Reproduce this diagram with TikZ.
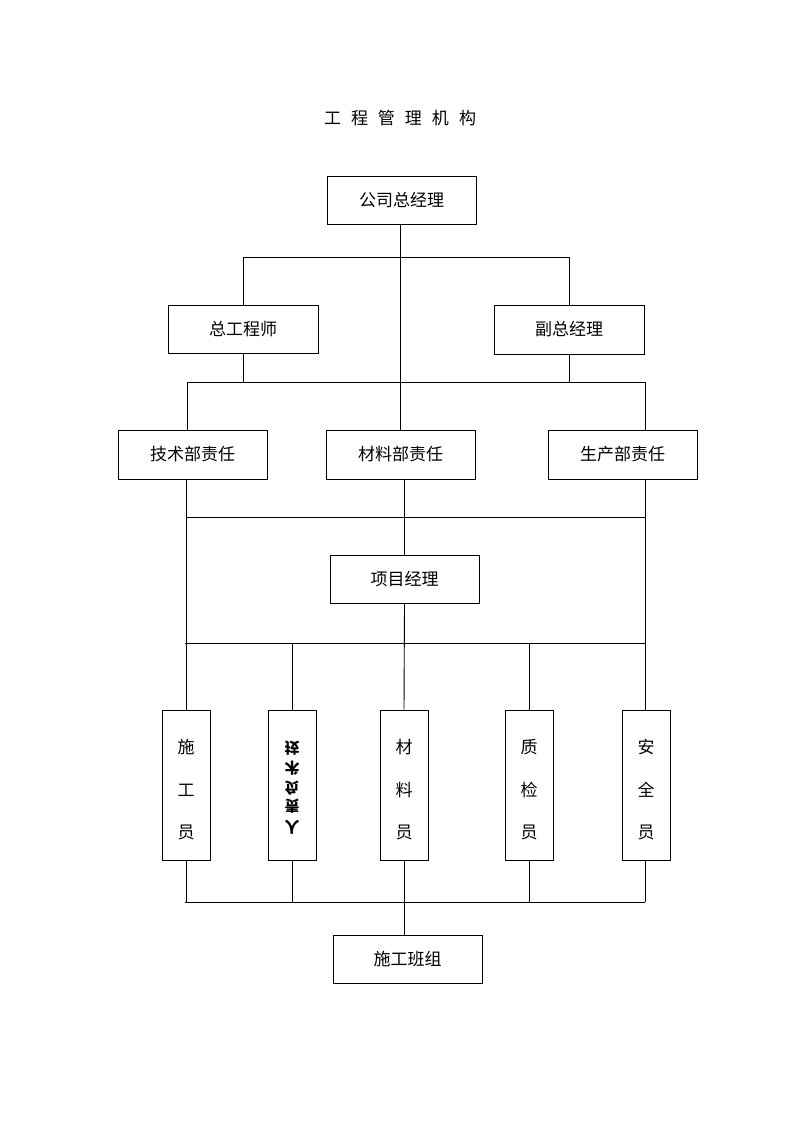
\documentclass[tikz,border=0pt]{standalone}
\usepackage{graphicx}
\usepackage{fontspec}
\newfontfamily\cjk{Noto Sans CJK SC}
\tikzset{
  box/.style={draw, line width=0.9pt, inner sep=0pt, font=\cjk\fontsize{17}{17}\selectfont},
  vbox/.style={draw, line width=0.9pt, inner sep=0pt, minimum width=48pt, minimum height=150pt},
  ln/.style={line width=0.9pt},
  ch/.style={font=\cjk\fontsize{17}{17}\selectfont, inner sep=0pt}
}
\begin{document}
\begin{tikzpicture}[x=1pt,y=-1pt]
\useasboundingbox (0,0) rectangle (800,1132);
% title
\node[font=\cjk\fontsize{17}{17}\selectfont, inner sep=0pt] (title) at (400,118) {工\hspace{10pt}程\hspace{10pt}管\hspace{10pt}理\hspace{10pt}机\hspace{10pt}构};
% boxes
\node[box, minimum width=149pt, minimum height=48pt] (gm) at (401.5,200) {公司总经理};
\node[box, minimum width=150pt, minimum height=48pt] (ce) at (243,329) {总工程师};
\node[box, minimum width=150pt, minimum height=49pt] (vgm) at (569,329.5) {副总经理};
\node[box, minimum width=149pt, minimum height=49pt] (tech) at (192.5,454.5) {技术部责任};
\node[box, minimum width=149pt, minimum height=49pt] (mat) at (400.5,454.5) {材料部责任};
\node[box, minimum width=149pt, minimum height=49pt] (prod) at (622.5,454.5) {生产部责任};
\node[box, minimum width=149pt, minimum height=48pt] (pm) at (404.5,579) {项目经理};
\node[box, minimum width=149pt, minimum height=48pt] (team) at (407.5,959) {施工班组};
% vertical boxes
\node[vbox] (b1) at (186,785) {};
\node[vbox] (b2) at (292,785) {};
\node[vbox] (b3) at (404,785) {};
\node[vbox] (b4) at (529,785) {};
\node[vbox] (b5) at (646,785) {};
% text in vertical boxes
\foreach \bx/\a/\b/\c in {b1/施/工/员, b3/材/料/员, b4/质/检/员, b5/安/全/员}{
  \node[ch] at ([yshift=38pt]\bx.center) {\a};
  \node[ch] at ([yshift=-5pt]\bx.center) {\b};
  \node[ch] at ([yshift=-47pt]\bx.center) {\c};
}
\foreach \t/\dy in {技/37, 术/17, 负/-3, 责/-21, 人/-42}{
  \node[ch, font=\cjk\bfseries\fontsize{15}{15}\selectfont] at ([yshift=\dy pt]b2.center) {\scalebox{1}[-1]{\t}};
}
% coordinates
\coordinate (j1l) at (243,257);
\coordinate (j1r) at (569,257);
\coordinate (j2l) at (187,382);
\coordinate (j2r) at (645,382);
\coordinate (j2a) at (243,382);
\coordinate (j2b) at (569,382);
\coordinate (j3l) at (187,517);
\coordinate (j3r) at (645,517);
\coordinate (j4l) at (185,643);
\coordinate (j4r) at (645,643);
\coordinate (j5l) at (185,902);
\coordinate (j5r) at (645,902);
% connectors
\draw[ln] (gm.south -| mat.north) -- (mat.north);
\draw[ln] (j1l) -- (j1r);
\draw[ln] (j1l) -- (ce.north -| j1l);
\draw[ln] (j1r) -- (vgm.north -| j1r);
\draw[ln] (ce.south) -- (j2a);
\draw[ln] (vgm.south) -- (j2b);
\draw[ln] (j2l) -- (j2r);
\draw[ln] (j2l) -- (tech.north -| j2l);
\draw[ln] (j2r) -- (prod.north -| j2r);
\draw[ln] (tech.south -| b1.north) -- (b1.north);
\draw[ln] (prod.south -| j2r) -- (b5.north -| j2r);
\draw[ln] (j3l) -- (j3r);
\draw[ln] (mat.south -| pm.north) -- (pm.north);
\draw[ln] (pm.south) -- (b3.north);
\draw[ln] (j4l) -- (j4r);
\draw[ln] (b2.north) -- (j4l -| b2.north);
\draw[ln] (b4.north) -- (j4l -| b4.north);
\draw[ln] (j5l) -- (j5r);
\foreach \bx in {b1,b2,b3,b4}{\draw[ln] (\bx.south) -- (j5l -| \bx.south);}
\draw[ln] (b5.south -| j5r) -- (j5r);
\draw[ln] (b3.south |- j5l) -- (team.north -| b3.south);
\end{tikzpicture}
\end{document}
